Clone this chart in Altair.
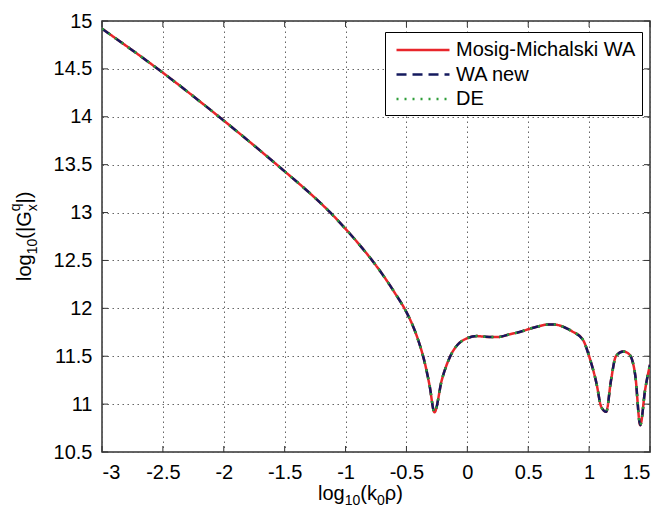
import altair as alt
import pandas as pd

# ---- data ----
log_k0rho = [-3.0, -2.5, -2.0, -1.5, -1.3, -1.13, -1.0, -0.9, -0.8, -0.7, -0.6, -0.5, -0.45,
             -0.4, -0.35, -0.31, -0.27, -0.21, -0.14, -0.08, -0.03, 0.08, 0.18, 0.25, 0.35,
             0.42, 0.55, 0.66, 0.72, 0.80, 0.86, 0.95, 1.0, 1.06, 1.10, 1.14, 1.18, 1.22,
             1.28, 1.33, 1.38, 1.42, 1.46, 1.5]
log_G = [14.92, 14.46, 13.96, 13.43, 13.21, 13.006, 12.83, 12.685, 12.53, 12.36, 12.17, 11.96,
         11.825, 11.655, 11.435, 11.195, 10.915, 11.25, 11.5, 11.62, 11.67, 11.71, 11.70, 11.70,
         11.73, 11.75, 11.80, 11.83, 11.83, 11.80, 11.76, 11.67, 11.5, 11.22, 10.97, 10.92,
         11.25, 11.5, 11.55, 11.52, 11.29, 10.78, 11.15, 11.41]
series_names = ["Mosig-Michalski WA", "WA new", "DE"]
series_colors = ["#e8262b", "#141a5e", "#2f9e3a"]
series_dash = [[1, 0], [10, 6], [2, 6]]
x_ticks = [-3, -2.5, -2, -1.5, -1, -0.5, 0, 0.5, 1, 1.5]
y_ticks = [10.5, 11, 11.5, 12, 12.5, 13, 13.5, 14, 14.5, 15]

rows = []
for s in series_names:
    for xv, yv in zip(log_k0rho, log_G):
        rows.append({"x": xv, "y": yv, "series": s})
df = pd.DataFrame(rows)
xt_df = pd.DataFrame({"t": x_ticks})
yt_df = pd.DataFrame({"t": y_ticks})

FONT = "Liberation Sans"
W, H = 548, 431
TICK = 6

xscale = alt.Scale(domain=[-3, 1.5], nice=False, zero=False)
yscale = alt.Scale(domain=[10.5, 15], nice=False, zero=False)

leg = alt.Legend(title=None, orient="none", legendX=283, legendY=11)

lines = alt.Chart(df).mark_line(strokeWidth=2.5, interpolate="monotone", clip=True).encode(
    x=alt.X("x:Q", scale=xscale,
            axis=alt.Axis(values=x_ticks, title=None, labelExpr="toString(datum.value)")),
    y=alt.Y("y:Q", scale=yscale,
            axis=alt.Axis(values=y_ticks, title=None, labelExpr="toString(datum.value)")),
    color=alt.Color("series:N", sort=series_names,
                    scale=alt.Scale(domain=series_names, range=series_colors),
                    legend=leg),
    strokeDash=alt.StrokeDash("series:N", sort=series_names,
                              scale=alt.Scale(domain=series_names, range=series_dash),
                              legend=leg),
)

# inward MATLAB-style ticks on all four sides
tick_style = dict(color="#333333", strokeWidth=1)
xt_bottom = alt.Chart(xt_df).mark_rule(**tick_style).encode(
    x=alt.X("t:Q", scale=xscale), y=alt.value(H), y2=alt.value(H - TICK))
xt_top = alt.Chart(xt_df).mark_rule(**tick_style).encode(
    x=alt.X("t:Q", scale=xscale), y=alt.value(0), y2=alt.value(TICK))
yt_left = alt.Chart(yt_df).mark_rule(**tick_style).encode(
    y=alt.Y("t:Q", scale=yscale), x=alt.value(0), x2=alt.value(TICK))
yt_right = alt.Chart(yt_df).mark_rule(**tick_style).encode(
    y=alt.Y("t:Q", scale=yscale), x=alt.value(W - TICK), x2=alt.value(W))

one = alt.Data(values=[{"a": 1}])


def txt(s, x, y, size, angle=0):
    return alt.Chart(one).mark_text(
        text=s, font=FONT, fontSize=size, align="left", baseline="alphabetic",
        angle=angle, color="black"
    ).encode(x=alt.value(x), y=alt.value(y))


# y-axis title: log10(|G^q_x|) rotated
yb = -71
y0 = 260
ytitle = [
    txt("log", yb, y0, 20, 270),
    txt("10", yb + 6, y0 - 26.7, 14, 270),
    txt("(|G", yb, y0 - 42.3, 20, 270),
    txt("q", yb - 11, y0 - 69.7, 14, 270),
    txt("x", yb + 6, y0 - 69.7, 14, 270),
    txt("|)", yb, y0 - 77.5, 20, 270),
]
# x-axis title: log10(k0 rho)
xb = 216
xy = 479
xtitle = [
    txt("log", xb, xy, 20),
    txt("10", xb + 26.7, xy + 5, 14),
    txt("(k", xb + 42.3, xy, 20),
    txt("0", xb + 59, xy + 5, 14),
    txt("ρ)", xb + 66.8, xy, 20),
]

chart = alt.layer(lines, xt_bottom, xt_top, yt_left, yt_right, *ytitle, *xtitle).properties(
    width=W, height=H,
    autosize=alt.AutoSizeParams(type="none"),
    padding={"left": 94, "top": 13, "right": 9, "bottom": 57},
).configure_view(
    stroke="#333333", strokeWidth=1.5
).configure_axis(
    labelFont=FONT, labelFontSize=20, labelColor="black",
    grid=True, gridColor="#555555", gridDash=[1.5, 3.5], gridWidth=1, gridOpacity=0.9,
    domain=False, ticks=False, labelPadding=10,
).configure_legend(
    labelFont=FONT, labelFontSize=20, labelColor="black", labelLimit=400,
    symbolType="M-2.5,0H2.5", symbolSize=449, symbolStrokeWidth=2.5,
    padding=6, rowPadding=2.5, labelOffset=21, symbolOffset=20,
    strokeColor="black", fillColor="white", cornerRadius=0,
)

chart.save("out.html", embed_options={"renderer": "svg", "actions": False})
